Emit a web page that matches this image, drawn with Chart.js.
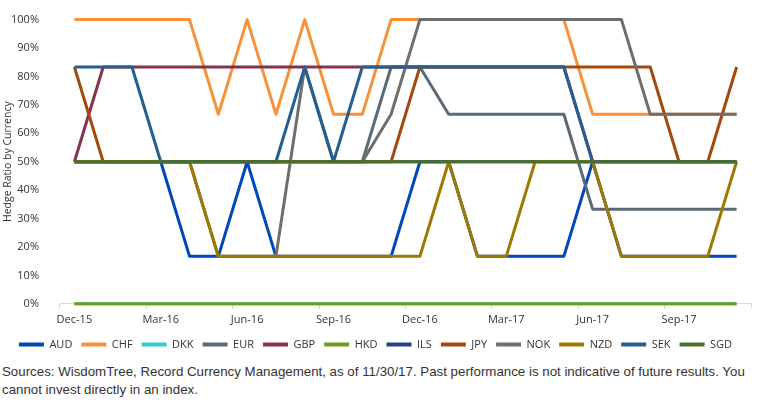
<!DOCTYPE html>
<html><head><meta charset="utf-8">
<script src="https://cdn.jsdelivr.net/npm/chart.js@4/dist/chart.umd.min.js"></script>
<style>
html,body{margin:0;padding:0;background:#fff;}
#wrap{position:absolute;left:0;top:0;width:758px;height:360px;}
#src{position:absolute;left:2px;top:363px;font-family:"Liberation Sans",Arial,sans-serif;font-size:13.3px;line-height:18px;color:#333;white-space:nowrap;}
</style></head>
<body>
<div id="wrap"><canvas id="c"></canvas></div>
<div id="src">Sources: WisdomTree, Record Currency Management, as of 11/30/17. Past performance is not indicative of future results. You<br>cannot invest directly in an index.</div>
<script>
const categories = ['Dec-15','Jan-16','Feb-16','Mar-16','Apr-16','May-16','Jun-16','Jul-16','Aug-16','Sep-16','Oct-16','Nov-16','Dec-16','Jan-17','Feb-17','Mar-17','Apr-17','May-17','Jun-17','Jul-17','Aug-17','Sep-17','Oct-17','Nov-17'];
const AUD = [50,50,50,50,16.7,16.7,50,16.7,16.7,16.7,16.7,16.7,50,50,16.7,16.7,16.7,16.7,50,16.7,16.7,16.7,16.7,16.7];
const CHF = [100,100,100,100,100,66.7,100,66.7,100,66.7,66.7,100,100,100,100,100,100,100,66.7,66.7,66.7,66.7,66.7,66.7];
const DKK = [0,0,0,0,0,0,0,0,0,0,0,0,0,0,0,0,0,0,0,0,0,0,0,0];
const EUR = [50,50,50,50,50,50,50,50,50,50,50,83.3,83.3,66.7,66.7,66.7,66.7,66.7,33.3,33.3,33.3,33.3,33.3,33.3];
const GBP = [50,83.3,83.3,83.3,83.3,83.3,83.3,83.3,83.3,83.3,83.3,83.3,83.3,83.3,83.3,83.3,83.3,83.3,50,50,50,50,50,50];
const HKD = [0,0,0,0,0,0,0,0,0,0,0,0,0,0,0,0,0,0,0,0,0,0,0,0];
const ILS = [50,50,50,50,50,50,50,50,50,50,50,50,50,50,50,50,50,50,50,50,50,50,50,50];
const JPY = [83.3,50,50,50,50,50,50,50,50,50,50,50,83.3,83.3,83.3,83.3,83.3,83.3,83.3,83.3,83.3,50,50,83.3];
const NOK = [50,50,50,50,50,16.7,16.7,16.7,83.3,50,50,66.7,100,100,100,100,100,100,100,100,66.7,66.7,66.7,66.7];
const NZD = [50,50,50,50,50,16.7,16.7,16.7,16.7,16.7,16.7,16.7,16.7,50,16.7,16.7,50,50,50,16.7,16.7,16.7,16.7,50];
const SEK = [83.3,83.3,83.3,50,50,50,50,50,83.3,50,83.3,83.3,83.3,83.3,83.3,83.3,83.3,83.3,50,50,50,50,50,50];
const SGD = [50,50,50,50,50,50,50,50,50,50,50,50,50,50,50,50,50,50,50,50,50,50,50,50];
const yTicks = [0,10,20,30,40,50,60,70,80,90,100];

const series = [
  ['AUD', AUD, '#0047BB'],
  ['CHF', CHF, '#F7923A'],
  ['DKK', DKK, '#33CCCC'],
  ['EUR', EUR, '#5B6A75'],
  ['GBP', GBP, '#86324E'],
  ['HKD', HKD, '#6E9A22'],
  ['ILS', ILS, '#25437F'],
  ['JPY', JPY, '#A24A0E'],
  ['NOK', NOK, '#6E6E6E'],
  ['NZD', NZD, '#9C7A00'],
  ['SEK', SEK, '#255E91'],
  ['SGD', SGD, '#4A6F2A']
];
const datasets = series.map((s, i) => ({
  label: s[0], data: s[1], borderColor: s[2], backgroundColor: s[2],
  borderWidth: 3, pointRadius: 0, tension: 0, fill: false,
  borderJoinStyle: 'round', clip: 6, order: -i
}));

const font = {family: '"Open Sans", sans-serif', size: 11};
new Chart(document.getElementById('c'), {
  type: 'line',
  data: {labels: categories, datasets},
  options: {
    responsive: true, maintainAspectRatio: false, animation: false,
    layout: {padding: {top: 12, right: 7, left: 0, bottom: 0}},
    plugins: {
      tooltip: {enabled: false},
      legend: {
        position: 'bottom',
        labels: {
          boxWidth: 25, boxHeight: 4, padding: 9, font, color: '#333',
          sort: (a, b) => a.datasetIndex - b.datasetIndex,
          generateLabels: (chart) => Chart.defaults.plugins.legend.labels.generateLabels(chart)
            .map(l => Object.assign(l, {fillStyle: l.strokeStyle, lineWidth: 0}))
        }
      }
    },
    scales: {
      x: {
        type: 'category', offset: true,
        grid: {
          offset: true, drawOnChartArea: false, drawTicks: true, tickLength: 5,
          color: (c) => (c.type !== 'tick' || c.index % 3 === 0) ? '#D9D9D9' : 'rgba(0,0,0,0)'
        },
        border: {display: true, color: '#D9D9D9', width: 1},
        ticks: {
          autoSkip: false, maxRotation: 0, minRotation: 0, padding: 4, font, color: '#333',
          callback: (v, i) => i % 3 === 0 ? categories[i] : ''
        }
      },
      y: {
        min: 0, max: 100,
        afterFit: (s) => { s.width = 60; },
        afterBuildTicks: (s) => { s.ticks = yTicks.map(v => ({value: v})); },
        grid: {display: false},
        border: {display: false},
        ticks: {padding: 13, font, color: '#333', callback: (v) => v + '%'},
        title: {display: true, text: 'Hedge Ratio by Currency', color: '#333',
          font: {family: '"Open Sans", sans-serif', size: 10.5}, padding: {top: 2, bottom: 0}}
      }
    }
  }
});
</script>
</body></html>
